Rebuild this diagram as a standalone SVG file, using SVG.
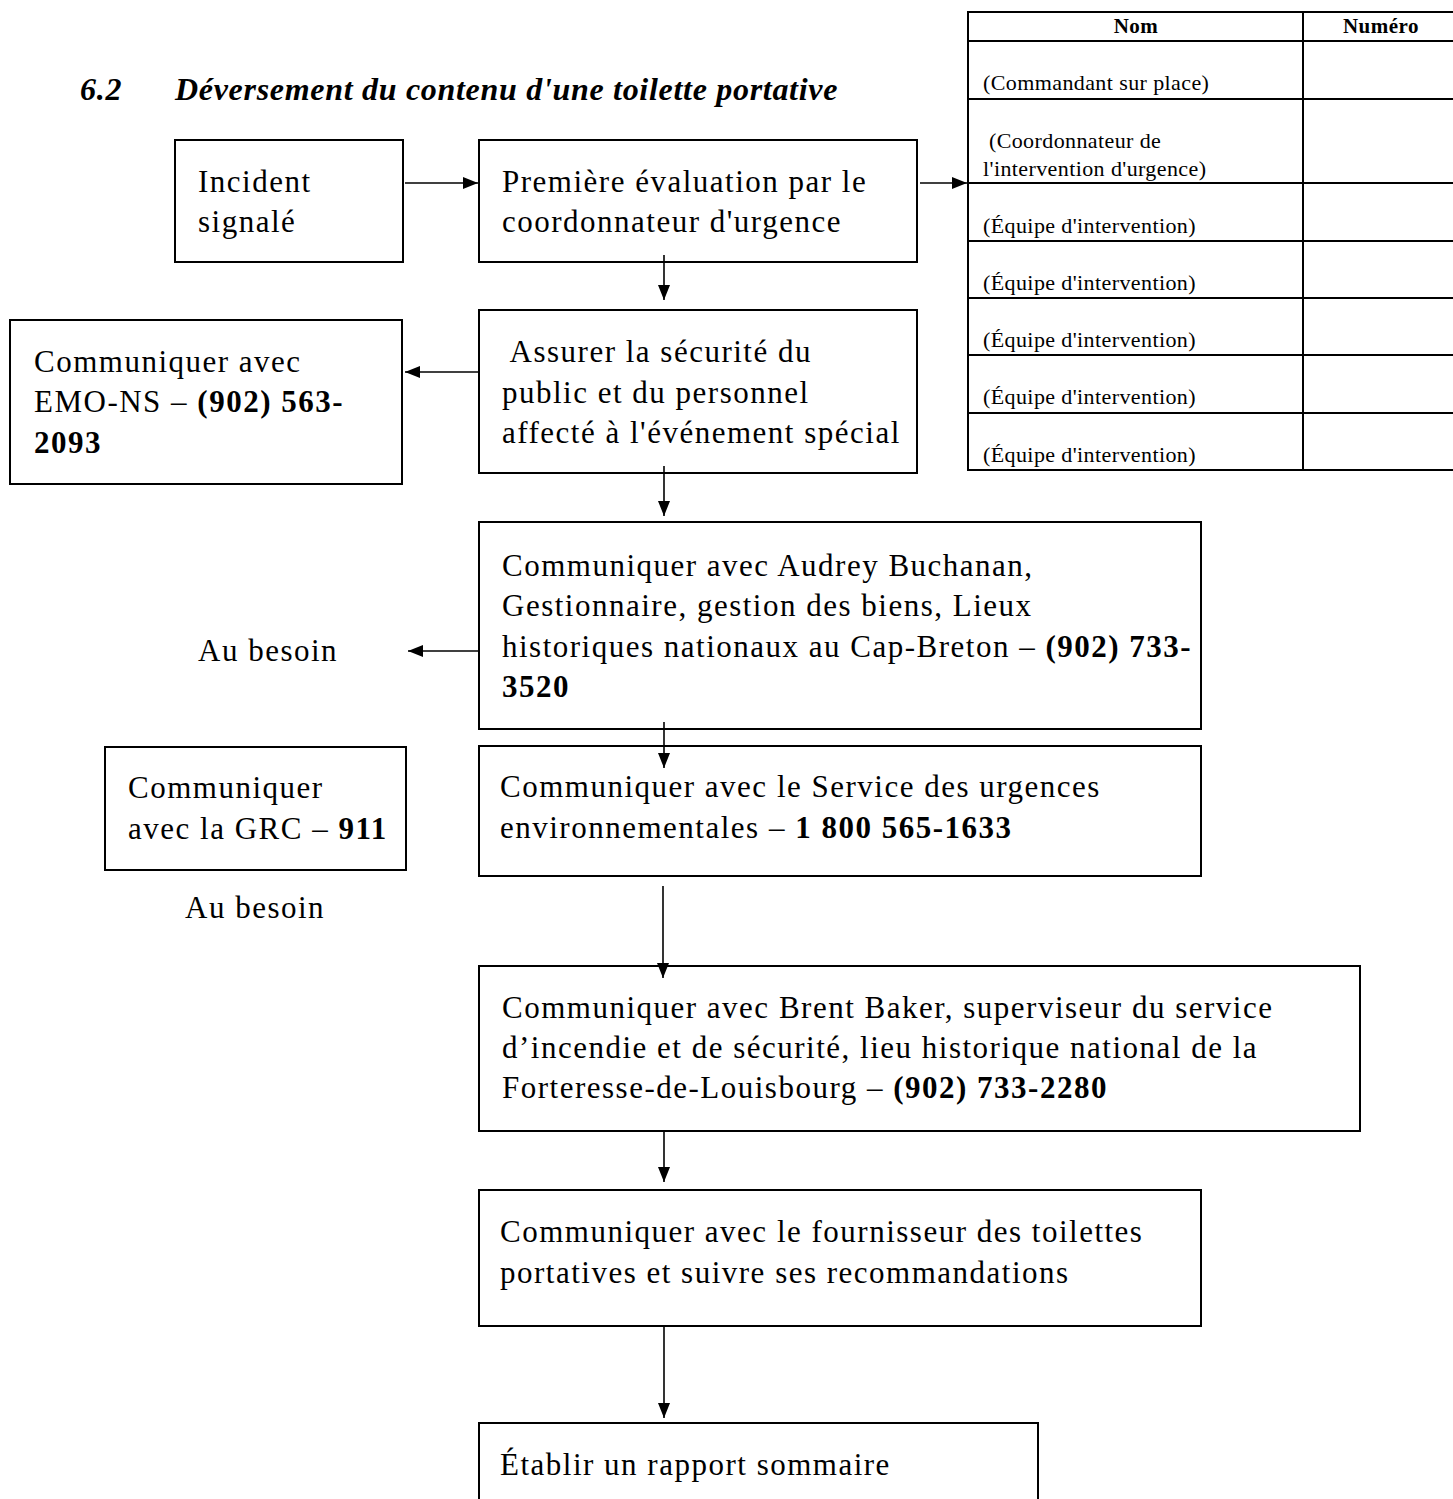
<svg xmlns="http://www.w3.org/2000/svg" width="1453" height="1499" viewBox="0 0 1453 1499">
<style>
.box{fill:#fff;stroke:#000;stroke-width:2}
.t{font-family:"Liberation Serif","Times New Roman",serif;font-size:31px;letter-spacing:1.5px;fill:#000}
.b{font-weight:bold}
.title{font-family:"Liberation Serif","Times New Roman",serif;font-size:32px;font-weight:bold;font-style:italic;letter-spacing:0.7px;fill:#000}
.tb{font-family:"Liberation Serif","Times New Roman",serif;font-size:22px;letter-spacing:0.4px;fill:#000}
.th{font-family:"Liberation Serif","Times New Roman",serif;font-size:21px;font-weight:bold;letter-spacing:0.5px;fill:#000;text-anchor:middle}
.grid{stroke:#000;stroke-width:2;fill:none}
.arr{stroke:#000;stroke-width:1.6;fill:none;marker-end:url(#ah)}
</style>
<defs>
<marker id="ah" markerUnits="userSpaceOnUse" markerWidth="15" markerHeight="12" refX="15" refY="6" orient="auto">
<path d="M0,0 L15,6 L0,12 z" fill="#000"/>
</marker>
</defs>
<rect width="1453" height="1499" fill="#fff"/>

<g id="title">
<text class="title" x="80" y="100">6.2</text>
<text class="title" x="175" y="100">Déversement du contenu d'une toilette portative</text>
</g>

<g id="table">
<rect class="grid" x="968" y="12" width="500" height="458"/>
<line class="grid" x1="1303" y1="12" x2="1303" y2="470"/>
<line class="grid" x1="968" y1="41" x2="1460" y2="41"/>
<line class="grid" x1="968" y1="99" x2="1460" y2="99"/>
<line class="grid" x1="968" y1="183" x2="1460" y2="183"/>
<line class="grid" x1="968" y1="241" x2="1460" y2="241"/>
<line class="grid" x1="968" y1="298" x2="1460" y2="298"/>
<line class="grid" x1="968" y1="355" x2="1460" y2="355"/>
<line class="grid" x1="968" y1="413" x2="1460" y2="413"/>
<text class="th" x="1136" y="33">Nom</text>
<text class="th" x="1381" y="33">Numéro</text>
<text class="tb" x="983" y="90">(Commandant sur place)</text>
<text class="tb" x="983" y="148" xml:space="preserve"> (Coordonnateur de</text>
<text class="tb" x="983" y="176">l'intervention d'urgence)</text>
<text class="tb" x="983" y="233">(Équipe d'intervention)</text>
<text class="tb" x="983" y="290">(Équipe d'intervention)</text>
<text class="tb" x="983" y="347">(Équipe d'intervention)</text>
<text class="tb" x="983" y="404">(Équipe d'intervention)</text>
<text class="tb" x="983" y="462">(Équipe d'intervention)</text>
</g>

<g id="incident">
<rect class="box" x="175" y="140" width="228" height="122"/>
<text class="t" x="198" y="192">Incident</text>
<text class="t" x="198" y="232">signalé</text>
</g>

<g id="premiere">
<rect class="box" x="479" y="140" width="438" height="122"/>
<text class="t" x="502" y="192">Première évaluation par le</text>
<text class="t" x="502" y="232">coordonnateur d'urgence</text>
</g>

<g id="assurer">
<rect class="box" x="479" y="310" width="438" height="163"/>
<text class="t" x="502" y="362" xml:space="preserve"> Assurer la sécurité du</text>
<text class="t" x="502" y="403">public et du personnel</text>
<text class="t" x="502" y="443">affecté à l'événement spécial</text>
</g>

<g id="emo">
<rect class="box" x="10" y="320" width="392" height="164"/>
<text class="t" x="34" y="372">Communiquer avec</text>
<text class="t" x="34" y="412">EMO-NS – <tspan class="b">(902) 563-</tspan></text>
<text class="t b" x="34" y="453">2093</text>
</g>

<g id="audrey">
<rect class="box" x="479" y="522" width="722" height="207"/>
<text class="t" x="502" y="576">Communiquer avec Audrey Buchanan,</text>
<text class="t" x="502" y="616">Gestionnaire, gestion des biens, Lieux</text>
<text class="t" x="502" y="657">historiques nationaux au Cap-Breton – <tspan class="b">(902) 733-</tspan></text>
<text class="t b" x="502" y="697">3520</text>
</g>

<g id="aubesoin1">
<text class="t" x="198" y="661">Au besoin</text>
</g>

<g id="grc">
<rect class="box" x="105" y="747" width="301" height="123"/>
<text class="t" x="128" y="798">Communiquer</text>
<text class="t" x="128" y="839">avec la GRC – <tspan class="b">911</tspan></text>
</g>

<g id="aubesoin2">
<text class="t" x="185" y="918">Au besoin</text>
</g>

<g id="service">
<rect class="box" x="479" y="746" width="722" height="130"/>
<text class="t" x="500" y="797">Communiquer avec le Service des urgences</text>
<text class="t" x="500" y="838">environnementales – <tspan class="b">1 800 565-1633</tspan></text>
</g>

<g id="brent">
<rect class="box" x="479" y="966" width="881" height="165"/>
<text class="t" x="502" y="1018">Communiquer avec Brent Baker, superviseur du service</text>
<text class="t" x="502" y="1058">d’incendie et de sécurité, lieu historique national de la</text>
<text class="t" x="502" y="1098">Forteresse-de-Louisbourg – <tspan class="b">(902) 733-2280</tspan></text>
</g>

<g id="fournisseur">
<rect class="box" x="479" y="1190" width="722" height="136"/>
<text class="t" x="500" y="1242">Communiquer avec le fournisseur des toilettes</text>
<text class="t" x="500" y="1283">portatives et suivre ses recommandations</text>
</g>

<g id="etablir">
<rect class="box" x="479" y="1423" width="559" height="100"/>
<text class="t" x="500" y="1475">Établir un rapport sommaire</text>
</g>

<g id="connectors">
<line class="arr" x1="405" y1="183" x2="478" y2="183"/>
<line class="arr" x1="920" y1="183" x2="967" y2="183"/>
<line class="arr" x1="664" y1="255" x2="664" y2="300"/>
<line class="arr" x1="479" y1="372" x2="405" y2="372"/>
<line class="arr" x1="664" y1="466" x2="664" y2="516"/>
<line class="arr" x1="479" y1="651" x2="408" y2="651"/>
<line class="arr" x1="664" y1="722" x2="664" y2="768"/>
<line class="arr" x1="663" y1="886" x2="663" y2="978"/>
<line class="arr" x1="664" y1="1131" x2="664" y2="1182"/>
<line class="arr" x1="664" y1="1326" x2="664" y2="1418"/>
</g>
</svg>
